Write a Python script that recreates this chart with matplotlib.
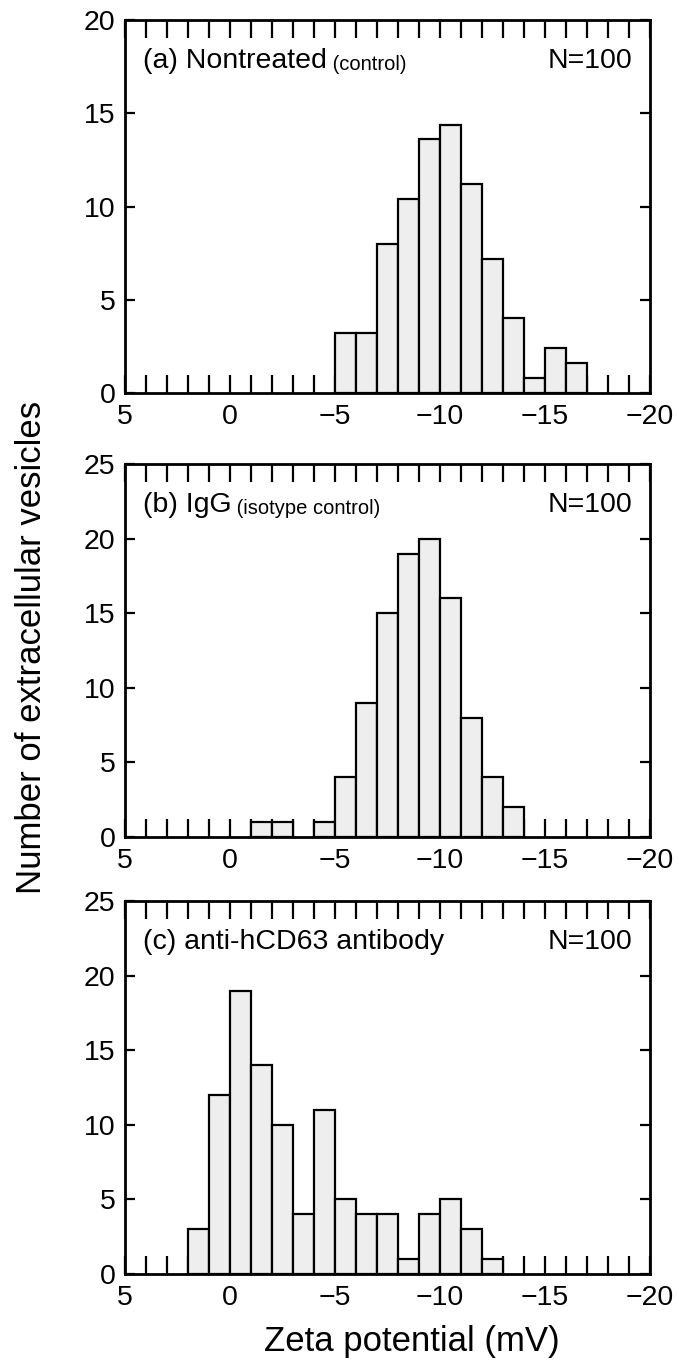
import numpy as np
import matplotlib
matplotlib.use('Agg')
import matplotlib.pyplot as plt
from matplotlib.ticker import MultipleLocator

plt.rcParams['font.family'] = ['Liberation Sans', 'DejaVu Sans']

# bin centres (1 mV bins) and bar heights
a_centers = [-5.5, -6.5, -7.5, -8.5, -9.5, -10.5, -11.5, -12.5, -13.5, -14.5, -15.5, -16.5]
a_heights = [3.2, 3.2, 8.0, 10.4, 13.6, 14.4, 11.2, 7.2, 4.0, 0.8, 2.4, 1.6]

b_centers = [-1.5, -2.5, -4.5, -5.5, -6.5, -7.5, -8.5, -9.5, -10.5, -11.5, -12.5, -13.5]
b_heights = [1, 1, 1, 4, 9, 15, 19, 20, 16, 8, 4, 2]

c_centers = [1.5, 0.5, -0.5, -1.5, -2.5, -3.5, -4.5, -5.5, -6.5, -7.5, -8.5, -9.5, -10.5, -11.5, -12.5]
c_heights = [3, 12, 19, 14, 10, 4, 11, 5, 4, 4, 1, 4, 5, 3, 1]

titles = ['(a) Nontreated', '(b) IgG', '(c) anti-hCD63 antibody']
subtitles = [' (control)', ' (isotype control)', '']
ymaxes = [20, 25, 25]
n_label = 'N=100'

fig = plt.figure(figsize=(6.79, 13.71), dpi=100)

left, width, h = 125 / 679, 525 / 679, 0.272
bottoms = [1 - 393 / 1371, 1 - 837 / 1371, 1 - 1274 / 1371]

panels = [(a_centers, a_heights), (b_centers, b_heights), (c_centers, c_heights)]

for i, (centers, heights) in enumerate(panels):
    ax = fig.add_axes([left, bottoms[i], width, h])
    ax.bar(centers, heights, width=1.0, color='#eeeeee', edgecolor='black', linewidth=1.6, zorder=2)

    ax.set_xlim(5, -20)
    ax.set_ylim(0, ymaxes[i])
    ax.xaxis.set_major_locator(MultipleLocator(5))
    ax.xaxis.set_minor_locator(MultipleLocator(1))
    ax.yaxis.set_major_locator(MultipleLocator(5))

    ax.tick_params(axis='x', which='both', direction='in', top=True, bottom=True,
                   length=13, width=1.6, labelsize=20.5, pad=8)
    ax.tick_params(axis='y', which='both', direction='in', left=True, right=True,
                   length=7, width=1.6, labelsize=20.5, pad=7)
    for s in ax.spines.values():
        s.set_linewidth(2)
        s.set_zorder(3)

    t1 = ax.text(0.034, 0.89, titles[i], transform=ax.transAxes, fontsize=20.5, va='center', ha='left')
    if subtitles[i]:
        ax.annotate(subtitles[i], xy=(1, 0), xycoords=t1, fontsize=14.5, va='bottom', ha='left')
    ax.text(0.966, 0.89, n_label, transform=ax.transAxes, fontsize=20.5, va='center', ha='right')

fig.text(0.046, 1 - 647 / 1371, 'Number of extracellular vesicles', rotation=90,
         fontsize=25, ha='center', va='center')
fig.text(412 / 679, 1 - 1341 / 1371, 'Zeta potential (mV)', fontsize=25, ha='center', va='center')

fig.savefig('out.png', dpi=100)
